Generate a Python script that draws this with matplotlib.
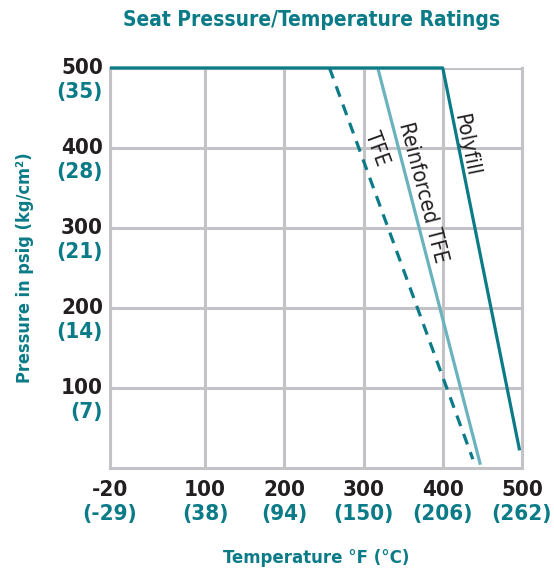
import matplotlib
matplotlib.use('Agg')
import matplotlib.pyplot as plt

plt.rcParams['font.family'] = ['DejaVu Sans']
plt.rcParams['font.stretch'] = 'condensed'

TEAL = '#0A7B87'
LIGHT_TEAL = '#6AB3BE'
GRID = '#C3C3C7'
BLACK = '#231F20'

# ── Data ──
x_ticks = [-20, 100, 200, 300, 400, 500]
x_ticks_c = ['(-29)', '(38)', '(94)', '(150)', '(206)', '(262)']
y_ticks = [100, 200, 300, 400, 500]
y_ticks_kg = ['(7)', '(14)', '(21)', '(28)', '(35)']

polyfill_x = [-20, 400, 497]
polyfill_y = [500, 500, 22]
reinforced_x = [318, 447]
reinforced_y = [500, 6]
tfe_x = [257, 438]
tfe_y = [500, 11]

fig = plt.figure(figsize=(5.54, 5.71), dpi=100)
ax = fig.add_axes([0.1986, 0.1804, 0.7436, 0.7006])
ax.set_xlim(-20, 500)
ax.set_ylim(0, 500)

ax.set_xticks(x_ticks)
ax.set_yticks(y_ticks)
ax.set_xticklabels([])
ax.set_yticklabels([])
ax.tick_params(length=0)
ax.grid(True, color=GRID, linewidth=2.2)
for side in ['left', 'bottom', 'right']:
    ax.spines[side].set_color(GRID)
    ax.spines[side].set_linewidth(2.2)
ax.spines['top'].set_visible(False)
ax.axhline(500, color=GRID, linewidth=2.2, zorder=1)

# lines
ax.plot(polyfill_x, polyfill_y, color=TEAL, linewidth=2.3, zorder=4, clip_on=False,
        solid_capstyle='butt')
ax.plot(reinforced_x, reinforced_y, color=LIGHT_TEAL, linewidth=2.3, zorder=3)
ax.plot(tfe_x, tfe_y, color=TEAL, linewidth=2.3, zorder=3, dashes=(3.5, 2.6))

# line labels
ax.text(429, 404, 'Polyfill', rotation=-78.6, fontsize=15.5, color=BLACK,
        ha='center', va='center', rotation_mode='anchor')
ax.text(375, 344, 'Reinforced TFE', rotation=-75.5, fontsize=15.5, color=BLACK,
        ha='center', va='center', rotation_mode='anchor')
ax.text(316, 399, 'TFE', rotation=-70, fontsize=15.5, color=BLACK,
        ha='center', va='center', rotation_mode='anchor')

# x tick labels (two lines, two colours)
for xv, lab in zip(x_ticks, x_ticks_c):
    ax.annotate(str(xv), (xv, 0), xycoords=('data', 'axes fraction'),
                xytext=(0, -16), textcoords='offset points', ha='center', va='center',
                fontsize=16, fontweight='bold', color=BLACK, annotation_clip=False)
    ax.annotate(lab, (xv, 0), xycoords=('data', 'axes fraction'),
                xytext=(0, -33), textcoords='offset points', ha='center', va='center',
                fontsize=16, fontweight='bold', color=TEAL, annotation_clip=False)

# y tick labels
for yv, lab in zip(y_ticks, y_ticks_kg):
    ax.annotate(str(yv), (0, yv), xycoords=('axes fraction', 'data'),
                xytext=(-5, 0), textcoords='offset points', ha='right', va='center',
                fontsize=16, fontweight='bold', color=BLACK, annotation_clip=False)
    ax.annotate(lab, (0, yv), xycoords=('axes fraction', 'data'),
                xytext=(-5, -17), textcoords='offset points', ha='right', va='center',
                fontsize=16, fontweight='bold', color=TEAL, annotation_clip=False)

fig.text(316 / 554, 1 - 558 / 571, 'Temperature °F (°C)', fontsize=13.3,
         fontweight='bold', color=TEAL, ha='center', va='center')
fig.text(25 / 554, 1 - 268 / 571, 'Pressure in psig (kg/cm²)', fontsize=13,
         fontweight='bold', color=TEAL, ha='center', va='center', rotation=90)
fig.text(312 / 554, 1 - 20 / 571, 'Seat Pressure/Temperature Ratings', fontsize=15,
         fontweight='bold', color=TEAL, ha='center', va='center')

fig.savefig('out.png', dpi=100, facecolor='white')
